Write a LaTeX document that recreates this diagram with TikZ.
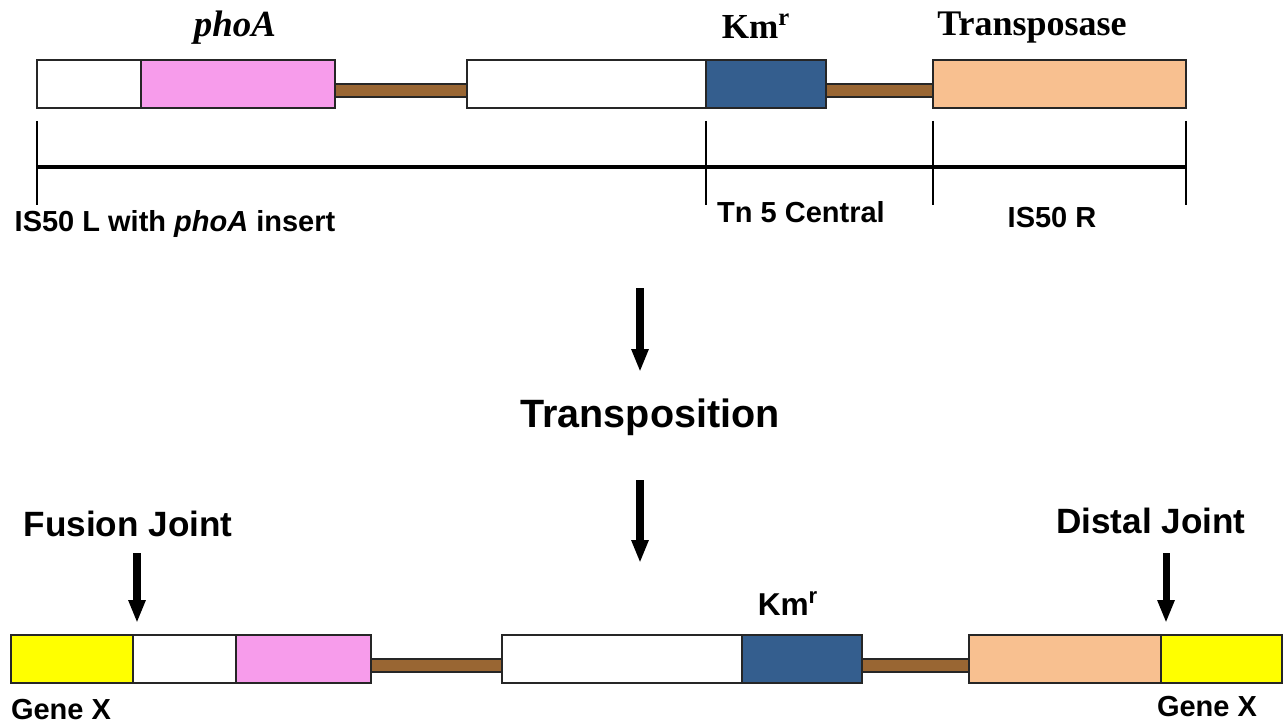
\documentclass[tikz,border=0pt]{standalone}
\usepackage{fontspec}
\setmainfont{Liberation Serif}
\setsansfont{Liberation Sans}
\usepackage{tikz}
\usetikzlibrary{calc, arrows.meta, positioning}

\definecolor{phoApink}{RGB}{247,156,235}
\definecolor{kmblue}{RGB}{52,94,142}
\definecolor{tnpeach}{RGB}{248,192,144}
\definecolor{linkbrown}{RGB}{153,102,51}
\definecolor{genex}{RGB}{255,255,0}

\tikzset{
  segbox/.style={draw=black!85, line width=0.85pt, minimum height=0.96cm, inner sep=0pt, outer sep=0pt},
  linker/.style={draw=black!85, line width=0.85pt, fill=linkbrown},
  tick/.style={line width=0.6pt},
  ruler/.style={line width=2.8pt},
  bigarrow/.style={line width=4pt, -{Triangle[length=13pt, width=9pt]}},
  seriflab/.style={font=\fontsize{20.5}{23}\selectfont\bfseries, anchor=base, inner sep=0pt},
  sanslab/.style={font=\sffamily\bfseries\fontsize{16.5}{18}\selectfont, anchor=base, inner sep=0pt},
  bigsans/.style={font=\sffamily\bfseries\fontsize{20}{22}\selectfont, anchor=base, inner sep=0pt},
}

\begin{document}
\begin{tikzpicture}[x=0.02cm, y=-0.02cm]
    \useasboundingbox (0,0) rectangle (1284,726);
    \def\seg#1#2#3#4#5{\node[segbox, fill=#5, minimum width={(#3-#2)*0.02cm}] (#1) at ({(#2+#3)/2},#4) {};}

    % Tn5 phoA, before
    \seg{isL}{37}{141}{84}{white}
    \seg{phoA}{141}{335}{84}{phoApink}
    \seg{cen}{467}{706}{84}{white}
    \seg{km}{706}{826}{84}{kmblue}
    \seg{tnp}{933}{1186}{84}{tnpeach}
    \filldraw[linker] (phoA.east) rectangle ($(cen.west)+(0,13)$);
    \filldraw[linker] (km.east) rectangle ($(tnp.west)+(0,13)$);

    \node[seriflab, font=\fontsize{21}{23}\selectfont\bfseries\itshape] (phoAlab) at (235,37) {phoA};
    \node[seriflab, font=\fontsize{20}{22}\selectfont\bfseries] (kmlab) at (756,39) {Km\textsuperscript{r}};
    \node[seriflab] (tnplab) at (1032,36) {Transposase};

    % ruler
    \foreach \x/\n in {37/a, 706/b, 933/c, 1186/d}{
        \coordinate (t\n) at (\x,121);
        \coordinate (b\n) at (\x,205);
        \draw[tick] (t\n) -- (b\n);
    }
    \coordinate (rl) at (37,167);
    \coordinate (rr) at (1186,167);
    \draw[ruler] (rl) -- (rr);

    \node[sanslab] (isLlab) at (175,232) {IS50 L with \textit{phoA} insert};
    \node[sanslab] (cenlab) at (801,223) {Tn 5 Central};
    \node[sanslab] (isRlab) at (1052,228) {IS50 R};

    % transposition
    \coordinate (m1) at (640,288);
    \coordinate (m2) at (640,372);
    \coordinate (m3) at (640,480);
    \coordinate (m4) at (640,563);
    \draw[bigarrow] (m1) -- (m2);
    \draw[bigarrow] (m3) -- (m4);
    \node[bigsans, font=\sffamily\bfseries\fontsize{22.5}{25}\selectfont] (transp) at (650,427) {Transposition};

    % after insertion into gene X
    \seg{gxL}{11}{133}{659}{genex}
    \seg{isLb}{133}{236}{659}{white}
    \seg{phoAb}{236}{371}{659}{phoApink}
    \seg{cenb}{502}{742}{659}{white}
    \seg{kmb}{742}{862}{659}{kmblue}
    \seg{tnpb}{969}{1161}{659}{tnpeach}
    \seg{gxR}{1161}{1282}{659}{genex}
    \filldraw[linker] (phoAb.east) rectangle ($(cenb.west)+(0,13)$);
    \filldraw[linker] (kmb.east) rectangle ($(tnpb.west)+(0,13)$);

    \node[bigsans] (fusion) at (128,536) {Fusion Joint};
    \node[bigsans] (distal) at (1151,533) {Distal Joint};
    \coordinate (f1) at (137,553);
    \coordinate (f2) at (137,623);
    \coordinate (d1) at (1166,553);
    \coordinate (d2) at (1166,623);
    \draw[bigarrow] (f1) -- (f2);
    \draw[bigarrow] (d1) -- (d2);

    \node[sanslab, font=\sffamily\bfseries\fontsize{18}{20}\selectfont] (kmblab) at (788,615) {Km\textsuperscript{r}};
    \node[sanslab] (gxLlab) at (61,719) {Gene X};
    \node[sanslab] (gxRlab) at (1207,716) {Gene X};
\end{tikzpicture}
\end{document}
